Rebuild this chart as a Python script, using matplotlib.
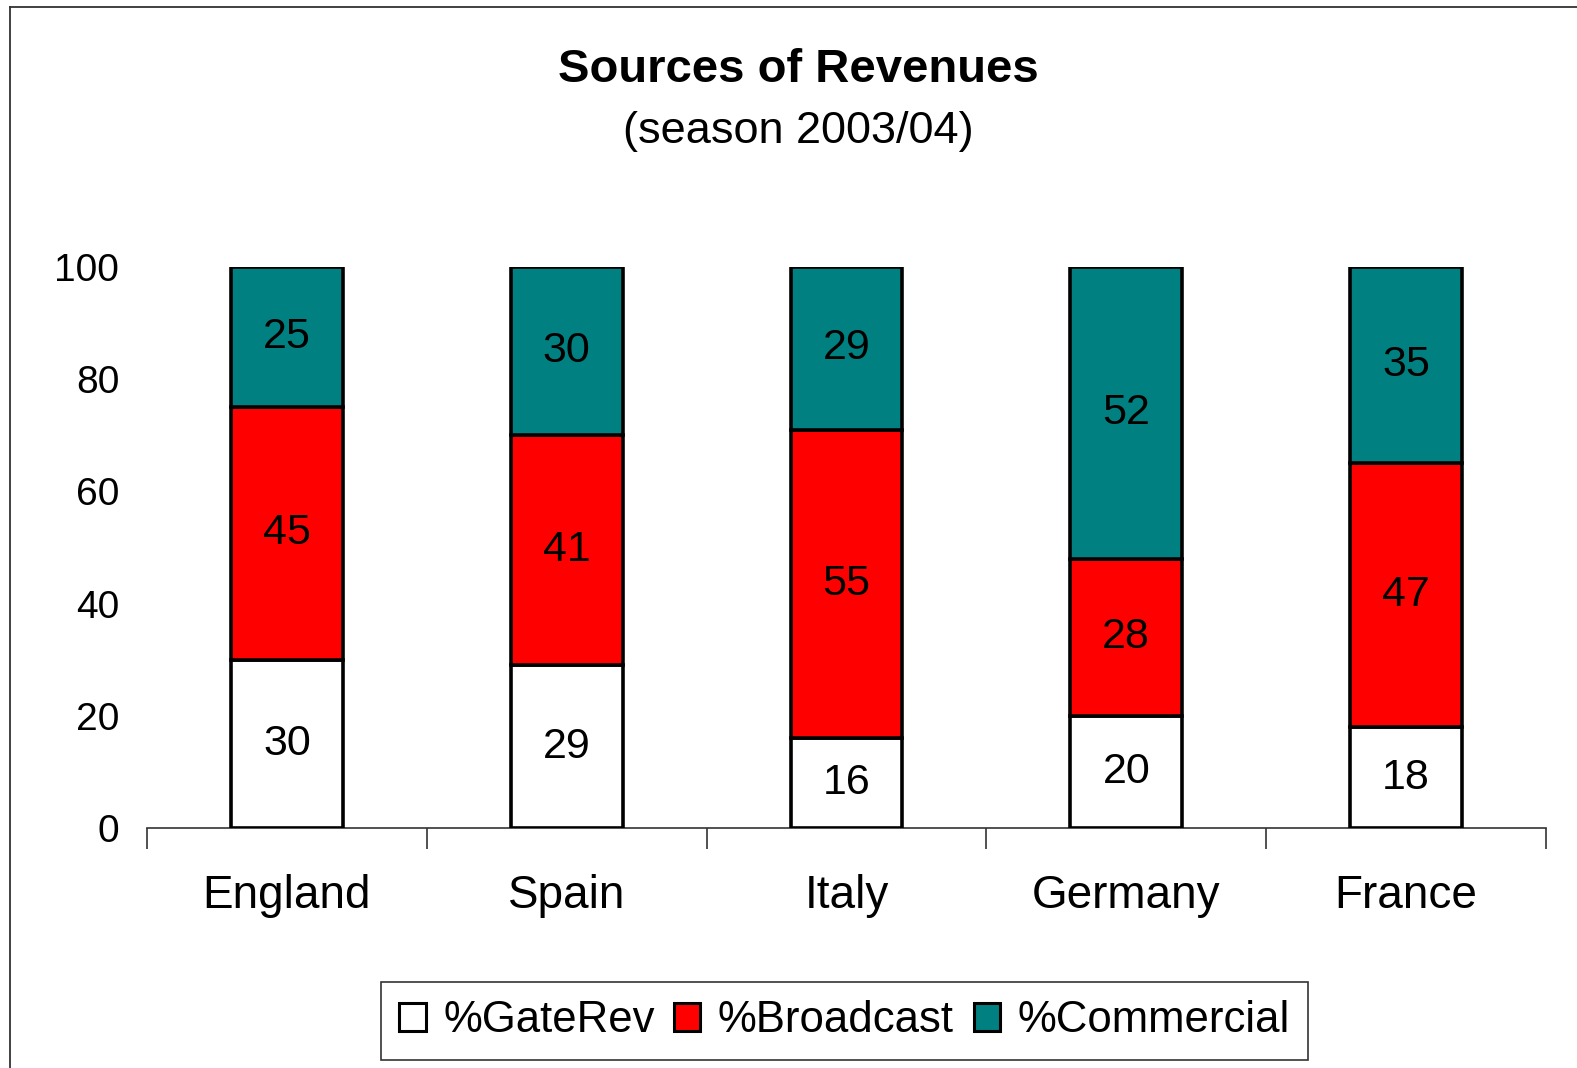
import matplotlib
matplotlib.use("Agg")
import matplotlib.pyplot as plt
from matplotlib.lines import Line2D
import numpy as np

plt.rcParams['font.family'] = ['Liberation Sans', 'DejaVu Sans']

countries = ["England", "Spain", "Italy", "Germany", "France"]
gate_rev = [30, 29, 16, 20, 18]
broadcast = [45, 41, 55, 28, 47]
commercial = [25, 30, 29, 52, 35]
series_names = ["%GateRev", "%Broadcast", "%Commercial"]
series_colors = ["#FFFFFF", "#FF0000", "#008080"]
y_ticks = [0, 20, 40, 60, 80, 100]

W, H = 1577, 1068
fig = plt.figure(figsize=(W / 100, H / 100), dpi=100)
fig.patch.set_facecolor("white")

ax = fig.add_axes([147 / W, 1 - 828 / H, (1546 - 147) / W, (828 - 267) / H])

x = np.arange(len(countries))
bottom = np.zeros(len(countries))
handles = []
for vals, name, col in zip([gate_rev, broadcast, commercial], series_names, series_colors):
    vals = np.array(vals, dtype=float)
    bars = ax.bar(x, vals, width=0.4, bottom=bottom, color=col,
                  edgecolor="black", linewidth=2.6, label=name, zorder=3)
    for xi, b, v in zip(x, bottom, vals):
        ax.text(xi, b + v / 2, f"{int(v)}", ha="center", va="center",
                fontsize=31, color="black", zorder=4)
    bottom += vals
    handles.append(bars)

ax.set_xlim(-0.5, len(countries) - 0.5)
ax.set_ylim(0, 100)

for side in ("left", "right", "top"):
    ax.spines[side].set_visible(False)
ax.spines["bottom"].set_color("#333333")
ax.spines["bottom"].set_linewidth(1.2)

ax.set_yticks(y_ticks)
ax.set_yticklabels([str(t) for t in y_ticks], fontsize=28)
ax.tick_params(axis="y", length=0, pad=20)

ax.set_xticks(x)
ax.set_xticklabels(countries, fontsize=33)
ax.tick_params(axis="x", which="major", length=0, pad=33)
ax.set_xticks(np.arange(-0.5, len(countries)), minor=True)
ax.tick_params(axis="x", which="minor", length=15, width=1.2, color="#333333",
               direction="out")

fig.text(798 / W, 1 - 82 / H, "Sources of Revenues", ha="center", va="baseline",
         fontsize=34, fontweight="bold")
fig.text(798 / W, 1 - 143 / H, "(season 2003/04)", ha="center", va="baseline",
         fontsize=32.5)

leg = fig.legend(handles=handles, labels=series_names, loc="center",
                 bbox_to_anchor=((376 + 1313) / 2 / W, 1 - 1021 / H),
                 ncol=3, fontsize=31.5, frameon=True, fancybox=False,
                 handlelength=0.6, handleheight=0.6, handletextpad=0.4,
                 columnspacing=0.45, borderpad=0.42, borderaxespad=0)
leg.get_frame().set_edgecolor("black")
leg.get_frame().set_linewidth(1.2)
for patch in leg.get_patches():
    patch.set_linewidth(2.2)

# Outer chart-area border (left and top edges)
fig.add_artist(Line2D([10 / W, 10 / W], [1 - 7 / H, 0], transform=fig.transFigure,
                      color="#333333", linewidth=1.3))
fig.add_artist(Line2D([10 / W, 1], [1 - 7 / H, 1 - 7 / H], transform=fig.transFigure,
                      color="#333333", linewidth=1.3))

fig.savefig("out.png", dpi=100, facecolor="white")
